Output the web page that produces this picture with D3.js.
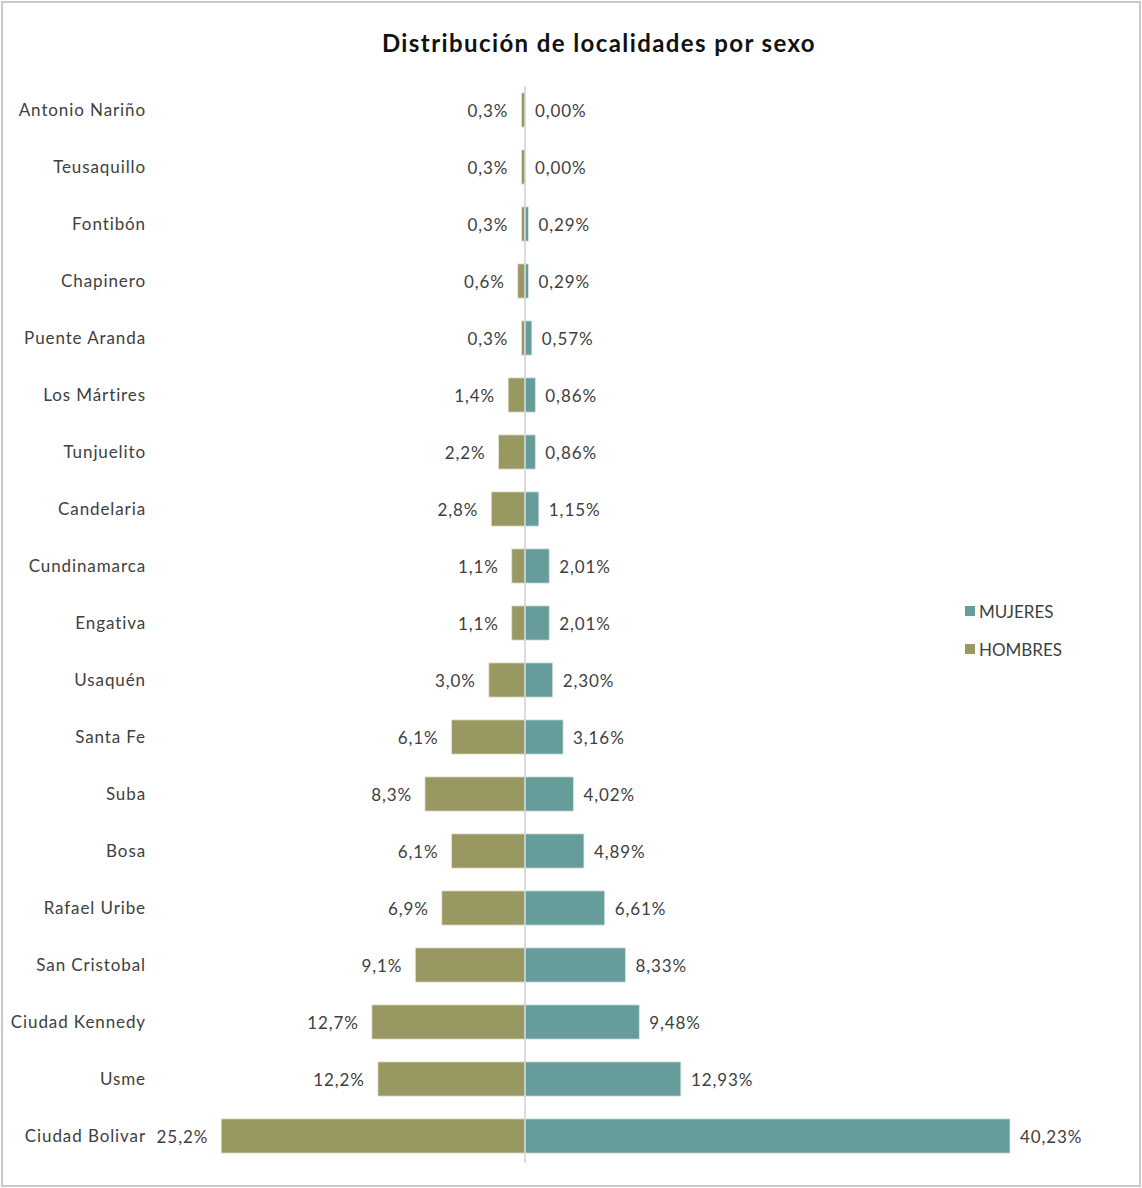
<!DOCTYPE html>
<html>
<head>
<meta charset="utf-8">
<script src="https://cdn.jsdelivr.net/npm/d3@7"></script>
<style>
  html, body { margin: 0; padding: 0; background: #fff; }
  svg { display: block; }
  text { font-family: Lato, "Open Sans", sans-serif; }
</style>
</head>
<body>
<svg id="chart" width="1142" height="1188"></svg>
<script>
const categories = ["Antonio Nariño","Teusaquillo","Fontibón","Chapinero","Puente Aranda","Los Mártires","Tunjuelito","Candelaria","Cundinamarca","Engativa","Usaquén","Santa Fe","Suba","Bosa","Rafael Uribe","San Cristobal","Ciudad Kennedy","Usme","Ciudad Bolivar"];
const hombres = [0.3,0.3,0.3,0.6,0.3,1.4,2.2,2.8,1.1,1.1,3.0,6.1,8.3,6.1,6.9,9.1,12.7,12.2,25.2];
const mujeres = [0.00,0.00,0.29,0.29,0.57,0.86,0.86,1.15,2.01,2.01,2.30,3.16,4.02,4.89,6.61,8.33,9.48,12.93,40.23];
const hombresLabels = ["0,3%","0,3%","0,3%","0,6%","0,3%","1,4%","2,2%","2,8%","1,1%","1,1%","3,0%","6,1%","8,3%","6,1%","6,9%","9,1%","12,7%","12,2%","25,2%"];
const mujeresLabels = ["0,00%","0,00%","0,29%","0,29%","0,57%","0,86%","0,86%","1,15%","2,01%","2,01%","2,30%","3,16%","4,02%","4,89%","6,61%","8,33%","9,48%","12,93%","40,23%"];
const seriesNames = ["MUJERES","HOMBRES"];
const title = "Distribución de localidades por sexo";

const colorH = "#999863";
const colorM = "#669c9a";
const textColor = "#404040";
const ls = "0.9px";
const fs = 17;

const svg = d3.select("#chart");

// border
svg.append("rect").attr("x", 2).attr("y", 2).attr("width", 1138).attr("height", 1184)
  .attr("fill", "#fff").attr("stroke", "#c9c9c9").attr("stroke-width", 2);

// title
svg.append("text").attr("x", 599).attr("y", 52).attr("text-anchor", "middle")
  .attr("font-size", 24).attr("font-weight", "bold").attr("fill", "#111")
  .style("letter-spacing", "1.4px")
  .text(title);

const center = 525;
const xR = d3.scaleLinear().domain([0, 40.23]).range([center, 1010]);
const xL = d3.scaleLinear().domain([0, 40.23]).range([center, center - 485]);
const y = d3.scaleBand().domain(categories).range([81.5, 1164.5]).paddingInner(0.4).paddingOuter(0.2);

const data = categories.map((c, i) => ({c, h: hombres[i], m: mujeres[i], hl: hombresLabels[i], ml: mujeresLabels[i]}));

// bars hombres
svg.append("g").selectAll("rect").data(data).join("rect")
  .attr("x", d => xL(d.h)).attr("y", d => y(d.c))
  .attr("width", d => center - xL(d.h)).attr("height", y.bandwidth())
  .attr("fill", colorH).attr("stroke", "#e6e6d6").attr("stroke-width", 0.8);

// bars mujeres
svg.append("g").selectAll("rect").data(data.filter(d => d.m > 0)).join("rect")
  .attr("x", center).attr("y", d => y(d.c))
  .attr("width", d => xR(d.m) - center).attr("height", y.bandwidth())
  .attr("fill", colorM).attr("stroke", "#d6e6e5").attr("stroke-width", 0.8);

// center axis
svg.append("line").attr("x1", center).attr("x2", center).attr("y1", 86).attr("y2", 1163)
  .attr("stroke", "#d0d0d0").attr("stroke-width", 1.5);

// category labels
const yAxis = d3.axisLeft(y).tickSize(0).tickPadding(0);
const ga = svg.append("g").attr("transform", "translate(146,1)").call(yAxis);
ga.select(".domain").remove();
ga.selectAll("text").attr("font-size", fs).attr("fill", textColor)
  .style("font-family", "Lato, 'Open Sans', sans-serif").style("letter-spacing", ls);

// value labels
svg.append("g").selectAll("text").data(data).join("text")
  .attr("x", d => xL(d.h) - 13).attr("y", d => y(d.c) + y.bandwidth() / 2 + 1)
  .attr("dy", "0.35em").attr("text-anchor", "end").style("letter-spacing", ls)
  .attr("font-size", fs).attr("fill", textColor).text(d => d.hl);

svg.append("g").selectAll("text").data(data).join("text")
  .attr("x", d => xR(d.m) + 10).attr("y", d => y(d.c) + y.bandwidth() / 2 + 1)
  .attr("dy", "0.35em").attr("text-anchor", "start").style("letter-spacing", ls)
  .attr("font-size", fs).attr("fill", textColor).text(d => d.ml);

// legend
const legend = svg.append("g");
const legendColors = [colorM, colorH];
seriesNames.forEach((n, i) => {
  const ly = 611 + i * 38;
  legend.append("rect").attr("x", 965).attr("y", ly - 5).attr("width", 10).attr("height", 10)
    .attr("fill", legendColors[i]);
  legend.append("text").attr("x", 979).attr("y", ly + 1).attr("dy", "0.35em").style("letter-spacing", "0px")
    .attr("font-size", fs).attr("fill", textColor).text(n);
});
</script>
</body>
</html>
